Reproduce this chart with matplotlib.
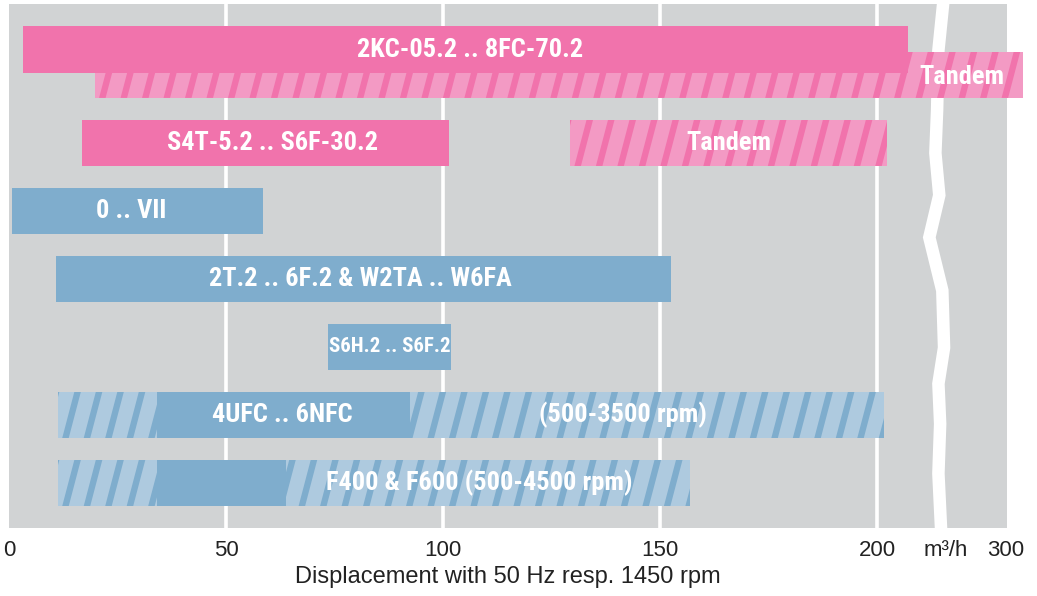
import numpy as np
import matplotlib
matplotlib.use("Agg")
import matplotlib.pyplot as plt
from matplotlib import font_manager
from matplotlib.collections import PolyCollection

# pick fonts that exist in the sandbox
_names = {f.name for f in font_manager.fontManager.ttflist}
def pick(*cands):
    for c in cands:
        if c in _names:
            return c
    return "DejaVu Sans"

narrow = pick("Roboto Condensed", "Liberation Sans Narrow", "DejaVu Sans")
regular = pick("Liberation Sans", "Roboto", "DejaVu Sans")

# --- data (display units, axis is broken after 200) ---
solid_row = [-0.37, 1, 2, 3, 4, 5, 6]
solid_start = [3.2, 16.8, 0.7, 10.8, 73.5, 34.1, 34.1]
solid_end = [207.1, 101.4, 58.5, 152.5, 101.8, 92.4, 63.8]
solid_color = ["pink", "pink", "blue", "blue", "blue", "blue", "blue"]

hatch_row = [0, 1, 5, 6]
hatch_start = [19.8, 129.3, 11.3, 11.3]
hatch_end = [233.6, 202.3, 201.6, 156.9]
hatch_color = ["pink", "pink", "blue", "blue"]

labels = ["2KC-05.2 .. 8FC-70.2", "Tandem", "S4T-5.2 .. S6F-30.2", "Tandem",
          "0 .. VII", "2T.2 .. 6F.2 & W2TA .. W6FA", "S6H.2 .. S6F.2",
          "4UFC .. 6NFC", "(500-3500 rpm)", "F400 & F600 (500-4500 rpm)"]
label_x = [106.2, 219.6, 60.7, 165.9, 28.1, 80.9, 87.8, 62.9, 141.4, 108.4]
label_y = [-0.37, 0.04, 1, 1, 2, 3, 4, 5, 5, 6]

tick_pos = [0, 50, 100, 150, 200, 215.9, 229.5]
tick_lab = ["0", "50", "100", "150", "200", "m³/h", "300"]

# axis break zigzag (white line)
brk_x = [215.2, 214.1, 213.8, 213.4, 214.3, 212.0, 215.0, 215.4, 214.1, 214.5, 214.1, 214.7]
brk_y = [-1.05, -0.36, 0.52, 1.15, 1.77, 2.39, 3.17, 4.01, 4.54, 5.13, 5.86, 6.66]

dark = {"pink": "#F173AC", "blue": "#7FADCD"}
light = {"pink": "#F39AC4", "blue": "#AECADF"}

fig = plt.figure(figsize=(10.37, 5.96), dpi=100)
ax = fig.add_axes([9 / 1037, 68 / 596, 998 / 1037, 524 / 596])
ax.set_facecolor("#D1D3D4")
ax.set_xlim(0, 229.9)
ax.set_ylim(6.66, -1.04)
for s in ax.spines.values():
    s.set_visible(False)

for g in [50, 100, 150, 200]:
    ax.axvline(g, color="white", lw=2.6, zorder=1)
ax.plot(brk_x, brk_y, color="white", lw=9, zorder=1.5, solid_joinstyle="miter", clip_on=False)

bh = 0.68
# hatched bars (light fill + steep dark stripes)
hb = ax.barh(hatch_row, np.array(hatch_end) - np.array(hatch_start), left=hatch_start,
             height=bh, color=[light[c] for c in hatch_color], zorder=2)
for rect, x0, x1, y, c in zip(hb.patches, hatch_start, hatch_end, hatch_row, hatch_color):
    rect.set_clip_on(False)
    polys = []
    step, shift, w = 4.95, 2.8, 1.5
    for xs in np.arange(x0 - 4, x1 + 1, step):
        polys.append([(xs, y + bh / 2), (xs + w, y + bh / 2),
                      (xs + w + shift, y - bh / 2), (xs + shift, y - bh / 2)])
    pc = PolyCollection(polys, facecolor=dark[c], edgecolor="none", zorder=2.5)
    ax.add_collection(pc)
    pc.set_clip_path(rect)

sb = ax.barh(solid_row, np.array(solid_end) - np.array(solid_start), left=solid_start,
             height=bh, color=[dark[c] for c in solid_color], zorder=3)

for t, x, y in zip(labels, label_x, label_y):
    fs = 15 if t.startswith("S6H") else 19
    ax.text(x, y, t, ha="center", va="center", color="white", fontsize=fs,
            fontweight="bold", family=narrow, zorder=4, clip_on=False)

ax.set_yticks([])
ax.set_xticks(tick_pos)
ax.set_xticklabels(tick_lab, fontsize=16, family=regular, color="#222222")
ax.tick_params(axis="x", length=0, pad=9)
ax.set_xlabel("Displacement with 50 Hz resp. 1450 rpm", fontsize=17, family=regular,
              color="#222222", labelpad=3)

fig.savefig("out.png", dpi=100)
